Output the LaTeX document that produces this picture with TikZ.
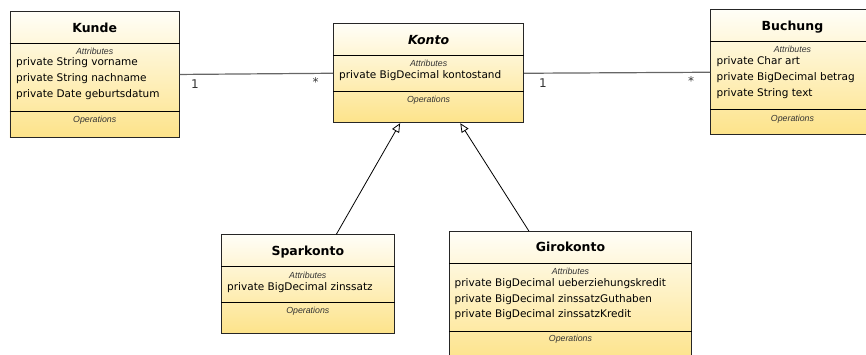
\documentclass[tikz,border=0pt]{standalone}
\usepackage{fontspec}
\setmainfont{DejaVu Sans}
\newfontfamily\smallfont{Liberation Sans}
\usetikzlibrary{arrows.meta}
\definecolor{boxtop}{HTML}{FFFEF7}
\definecolor{boxbot}{HTML}{FDE38A}
\definecolor{assoc}{HTML}{666666}
\begin{document}
\begin{tikzpicture}[x=1pt,y=-1pt,
 umlbox/.style={draw=black!85, line width=0.9pt, top color=boxtop, bottom color=boxbot, inner sep=0pt, anchor=north west},
 divider/.style={draw=black, line width=0.9pt},
 ttl/.style={font=\fontsize{12.5}{14}\selectfont\bfseries, anchor=base, inner sep=0pt},
 ttlit/.style={font=\fontsize{12.5}{14}\selectfont\bfseries\itshape, anchor=base, inner sep=0pt},
 sect/.style={font=\smallfont\itshape\fontsize{8.8}{10}\selectfont, text=black!80, anchor=mid, inner sep=0pt},
 attr/.style={font=\fontsize{10.5}{12}\selectfont, anchor=mid west, inner sep=0pt},
 assocline/.style={draw=assoc, line width=1.2pt},
 gen/.style={draw=black, line width=0.8pt, -{Triangle[open, length=9pt, width=8pt]}},
 mult/.style={font=\fontsize{12}{14}\selectfont, text=black!80, inner sep=0pt}]
\clip (0,0) rectangle (866,354);
\useasboundingbox (0,0) rectangle (866,354);

% ---------- Kunde
\node[umlbox, minimum width=169.5pt, minimum height=126pt] (kunde) at (9.5,11) {};
\draw[divider] (kunde.west |- 0,43) -- (kunde.east |- 0,43);
\draw[divider] (kunde.west |- 0,111) -- (kunde.east |- 0,111);
\node[ttl] (kundeT) at (kunde.north |- 0,32) {Kunde};
\node[sect] (kundeA) at (kunde.north |- 0,52) {Attributes};
\node[attr] (kunde1) at (16,63) {private String vorname};
\node[attr] (kunde2) at (16,79) {private String nachname};
\node[attr] (kunde3) at (16,95) {private Date geburtsdatum};
\node[sect] (kundeO) at (kunde.north |- 0,120) {Operations};

% ---------- Konto
\node[umlbox, minimum width=190.3pt, minimum height=99pt] (konto) at (333,23.3) {};
\draw[divider] (konto.west |- 0,55.3) -- (konto.east |- 0,55.3);
\draw[divider] (konto.west |- 0,91) -- (konto.east |- 0,91);
\node[ttlit] (kontoT) at (konto.north |- 0,44.3) {Konto};
\node[sect] (kontoA) at (konto.north |- 0,63.3) {Attributes};
\node[attr] (konto1) at (339,76) {private BigDecimal kontostand};
\node[sect] (kontoO) at (konto.north |- 0,100) {Operations};

% ---------- Buchung
\node[umlbox, minimum width=164pt, minimum height=125pt] (buchung) at (710,9.3) {};
\draw[divider] (buchung.west |- 0,41.7) -- (buchung.east |- 0,41.7);
\draw[divider] (buchung.west |- 0,109) -- (buchung.east |- 0,109);
\node[ttl] (buchungT) at (buchung.north |- 0,30) {Buchung};
\node[sect] (buchungA) at (buchung.north |- 0,50) {Attributes};
\node[attr] (buchung1) at (716.5,62) {private Char art};
\node[attr] (buchung2) at (716.5,77.7) {private BigDecimal betrag};
\node[attr] (buchung3) at (716.5,93.3) {private String text};
\node[sect] (buchungO) at (buchung.north |- 0,118.7) {Operations};

% ---------- Sparkonto
\node[umlbox, minimum width=172.7pt, minimum height=99pt] (spar) at (221,234.3) {};
\draw[divider] (spar.west |- 0,266.3) -- (spar.east |- 0,266.3);
\draw[divider] (spar.west |- 0,302.3) -- (spar.east |- 0,302.3);
\node[ttl] (sparT) at (spar.north |- 0,255.3) {Sparkonto};
\node[sect] (sparA) at (spar.north |- 0,275.7) {Attributes};
\node[attr] (spar1) at (227,287.7) {private BigDecimal zinssatz};
\node[sect] (sparO) at (spar.north |- 0,310.7) {Operations};

% ---------- Girokonto
\node[umlbox, minimum width=241.4pt, minimum height=130pt] (giro) at (449.3,231) {};
\draw[divider] (giro.west |- 0,263.3) -- (giro.east |- 0,263.3);
\draw[divider] (giro.west |- 0,331) -- (giro.east |- 0,331);
\node[ttl] (giroT) at (giro.north |- 0,251.7) {Girokonto};
\node[sect] (giroA) at (giro.north |- 0,271.7) {Attributes};
\node[attr] (giro1) at (454.5,283.3) {private BigDecimal ueberziehungskredit};
\node[attr] (giro2) at (454.5,299.3) {private BigDecimal zinssatzGuthaben};
\node[attr] (giro3) at (454.5,315) {private BigDecimal zinssatzKredit};
\node[sect] (giroO) at (giro.north |- 0,339) {Operations};

% ---------- connectors
\draw[assocline] (kunde.east) -- (konto.west);
\draw[assocline] (konto.east) -- (buchung.west);
\node[mult] (m1) at (195,84.5) {1};
\node[mult] (m2) at (315.5,82) {*};
\node[mult] (m3) at (543,83.5) {1};
\node[mult] (m4) at (691,81) {*};
\draw[gen] (spar) -- (konto);
\draw[gen] (giro) -- (konto);
\end{tikzpicture}
\end{document}
